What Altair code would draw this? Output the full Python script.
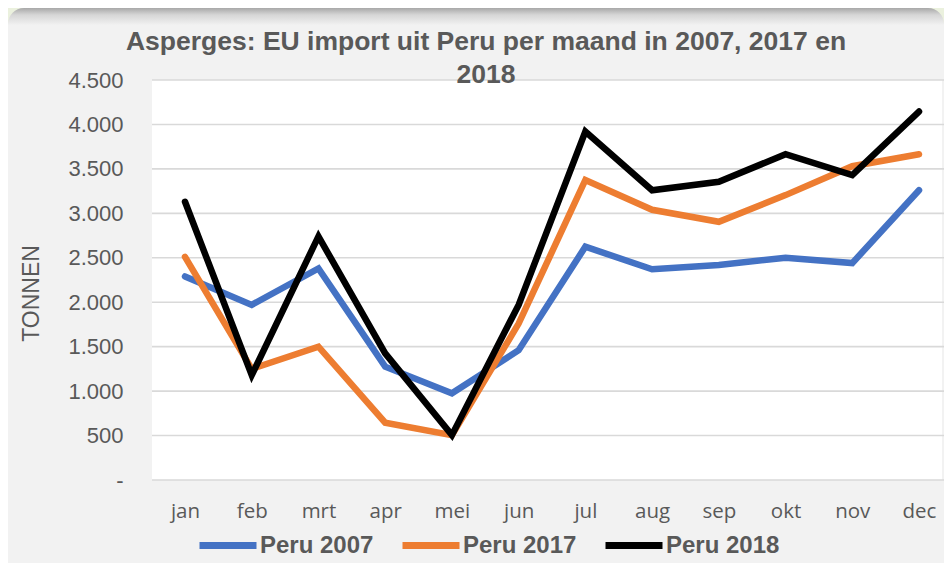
import altair as alt
import pandas as pd

months = ['jan', 'feb', 'mrt', 'apr', 'mei', 'jun', 'jul', 'aug', 'sep', 'okt', 'nov', 'dec']
series_names = ['Peru 2007', 'Peru 2017', 'Peru 2018']
peru_2007 = [2290, 1970, 2380, 1275, 975, 1460, 2625, 2370, 2420, 2500, 2440, 3260]
peru_2017 = [2510, 1250, 1500, 645, 505, 1760, 3375, 3040, 2905, 3205, 3530, 3665]
peru_2018 = [3130, 1180, 2740, 1425, 505, 1970, 3920, 3260, 3355, 3665, 3430, 4145]
y_ticks = [0, 500, 1000, 1500, 2000, 2500, 3000, 3500, 4000, 4500]
series_colors = ['#4472C4', '#ED7D31', '#000000']

rows = []
for name, vals in zip(series_names, [peru_2007, peru_2017, peru_2018]):
    for m, v in zip(months, vals):
        rows.append({'maand': m, 'serie': name, 'value': v})
df = pd.DataFrame(rows)
grid_df = pd.DataFrame({'value': y_ticks})

W, H = 792, 400
TXT = '#595959'

y_scale = alt.Scale(domain=[0, 4500], nice=False, zero=True)
y_axis = alt.Axis(
    values=y_ticks,
    labelExpr="datum.value == 0 ? '-\u00a0\u00a0' : replace(format(datum.value, ','), ',', '.')",
    grid=False, domain=False, ticks=False, tickSize=0, zindex=2,
    labelFont='Liberation Sans', labelFontSize=22, labelColor=TXT, labelPadding=29,
    title='TONNEN', titleFont='Liberation Sans', titleFontSize=23, titleFontWeight='normal',
    titleColor=TXT, titleAngle=270, titleX=-121, titleY=213, titleBaseline='middle',
    titleAlign='center',
)

panel = alt.Chart(alt.Data(values=[{}])).mark_rect(
    fill=alt.Gradient(
        gradient='linear', x1=0, y1=0, x2=0, y2=1,
        stops=[alt.GradientStop(offset=0, color='#a8a8a8'),
               alt.GradientStop(offset=0.012, color='#d6d6d6'),
               alt.GradientStop(offset=0.03, color='#f2f2f2'),
               alt.GradientStop(offset=1, color='#f2f2f2')]),
    cornerRadius=16, clip=False,
).encode(x=alt.value(-144), x2=alt.value(W), y=alt.value(-72), y2=alt.value(H + 100))

plot_bg = alt.Chart(alt.Data(values=[{}])).mark_rect(fill='white', clip=False).encode(
    x=alt.value(0), x2=alt.value(W - 2), y=alt.value(0), y2=alt.value(H))

grid = alt.Chart(grid_df).mark_rule(color='#d9d9d9', strokeWidth=1.6).encode(
    y=alt.Y('value:Q', scale=y_scale, axis=y_axis))

lines = alt.Chart(df).mark_line(strokeWidth=6.5, strokeCap='round', strokeJoin='miter').encode(
    x=alt.X('maand:O', sort=months,
            scale=alt.Scale(type='point', range=[33, 767], padding=0),
            axis=alt.Axis(title=None, domain=False, ticks=False, tickSize=0, grid=False, zindex=2,
                          labelFont='Open Sans', labelFontSize=20.5, labelColor=TXT,
                          labelBaseline='middle', labelPadding=31, labelAngle=0)),
    y=alt.Y('value:Q', scale=y_scale, axis=y_axis),
    color=alt.Color('serie:N', sort=series_names,
                    scale=alt.Scale(domain=series_names, range=series_colors),
                    legend=alt.Legend(title=None, orient='none', legendX=44, legendY=433.5,
                                      direction='horizontal', symbolType='stroke',
                                      symbolSize=3249, symbolStrokeWidth=7,
                                      labelFont='Liberation Sans', labelFontSize=24,
                                      labelFontWeight='bold', labelColor=TXT,
                                      labelOffset=0, columnPadding=14, padding=0, zindex=2)),
    order=alt.Order('serie:N'),
)

chart = alt.layer(panel, plot_bg, grid, lines).properties(
    width=W, height=H,
    title=alt.TitleParams(
        text=['Asperges: EU import uit Peru per maand in 2007, 2017 en', '2018'],
        font='Liberation Sans', fontSize=26.5, fontWeight='bold', color=TXT,
        lineHeight=33, anchor='middle', frame='group', dx=-62,
        baseline='top', dy=84),
    autosize=alt.AutoSizeParams(type='none'),
    padding={'left': 144, 'top': 72, 'right': 0, 'bottom': 83},
    background='#ebf1de',
).configure_view(stroke=None)

chart.save('out.html', embed_options={'renderer': 'svg', 'actions': False})
